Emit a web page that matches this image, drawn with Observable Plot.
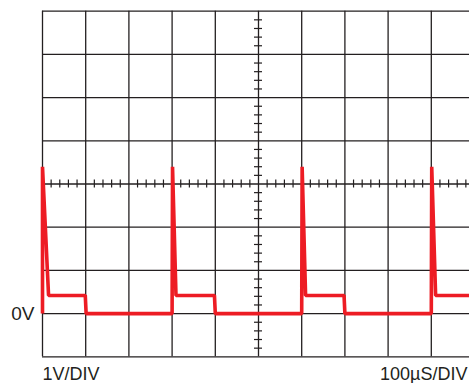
<!DOCTYPE html>
<html>
<head>
<meta charset="utf-8">
<script src="https://cdn.jsdelivr.net/npm/d3@7"></script>
<script src="https://cdn.jsdelivr.net/npm/@observablehq/plot@0.6"></script>
<style>
  html, body { margin: 0; padding: 0; background: white; overflow: hidden; }
</style>
</head>
<body>
<div id="chart"></div>
<script>
// Time in µs, voltage in V (1V/DIV, 100µS/DIV)
const timeUs = [0, 0, 14, 99, 101, 300, 301, 309, 398, 400, 600, 601, 609, 698, 700, 900, 901, 910, 1010];
const volts  = [0, 3.4, 0.42, 0.42, 0, 0, 3.4, 0.42, 0.42, 0, 0, 3.4, 0.42, 0.42, 0, 0, 3.4, 0.42, 0.42];

const gridTimes = [0, 100, 200, 300, 400, 500, 600, 700, 800, 900, 1000];
const gridVolts = [-1, 0, 1, 2, 3, 4, 5, 6, 7];
const centerTime = 500;
const centerVolt = 3;

const zeroLabel = "0V";
const voltLabel = "1V/DIV";
const timeLabel = "100µS/DIV";

const waveform = timeUs.map((t, i) => ({t, v: volts[i]}));
const minorTimes = d3.range(0, 1001, 20).filter(t => t % 100 !== 0);
const minorVolts = d3.range(-1, 7.001, 0.2).map(v => +v.toFixed(1)).filter(v => Math.abs(v - Math.round(v)) > 1e-6);

const ink = "#231f20";

const chart = Plot.plot({
  width: 469,
  height: 383,
  marginLeft: 42,
  marginRight: -5,
  marginTop: 10.7,
  marginBottom: 26.7,
  style: {
    fontFamily: "'Liberation Sans', Arial, sans-serif",
    fontSize: "19px",
    background: "white",
    color: ink,
    overflow: "visible",
    maxWidth: "none"
  },
  x: {domain: [0, 1000], axis: null},
  y: {domain: [-1, 7], ticks: [0], tickFormat: () => zeroLabel, tickSize: 0, tickPadding: 8, label: null},
  marks: [
    Plot.ruleX(gridTimes, {stroke: ink, strokeWidth: 1.3}),
    Plot.ruleY(gridVolts, {stroke: ink, strokeWidth: 1.3}),
    Plot.ruleX(minorTimes, {x: d => d, y1: centerVolt, y2: centerVolt, insetTop: -4, insetBottom: -4, stroke: ink, strokeWidth: 1.2}),
    Plot.ruleY(minorVolts, {y: d => d, x1: centerTime, x2: centerTime, insetLeft: -4, insetRight: -4, stroke: ink, strokeWidth: 1.2}),
    Plot.line(waveform, {x: "t", y: "v", stroke: "#ed1c24", strokeWidth: 3.6, strokeLinejoin: "miter", strokeLinecap: "butt", curve: "linear"}),
    Plot.text([voltLabel], {frameAnchor: "bottom-left", textAnchor: "start", lineAnchor: "top", dy: 10.5, fontSize: 18, fill: ink}),
    Plot.text([timeLabel], {frameAnchor: "bottom-right", textAnchor: "end", lineAnchor: "top", dx: -7, dy: 10.5, fontSize: 18, fill: ink})
  ]
});
document.getElementById("chart").appendChild(chart);
</script>
</body>
</html>
